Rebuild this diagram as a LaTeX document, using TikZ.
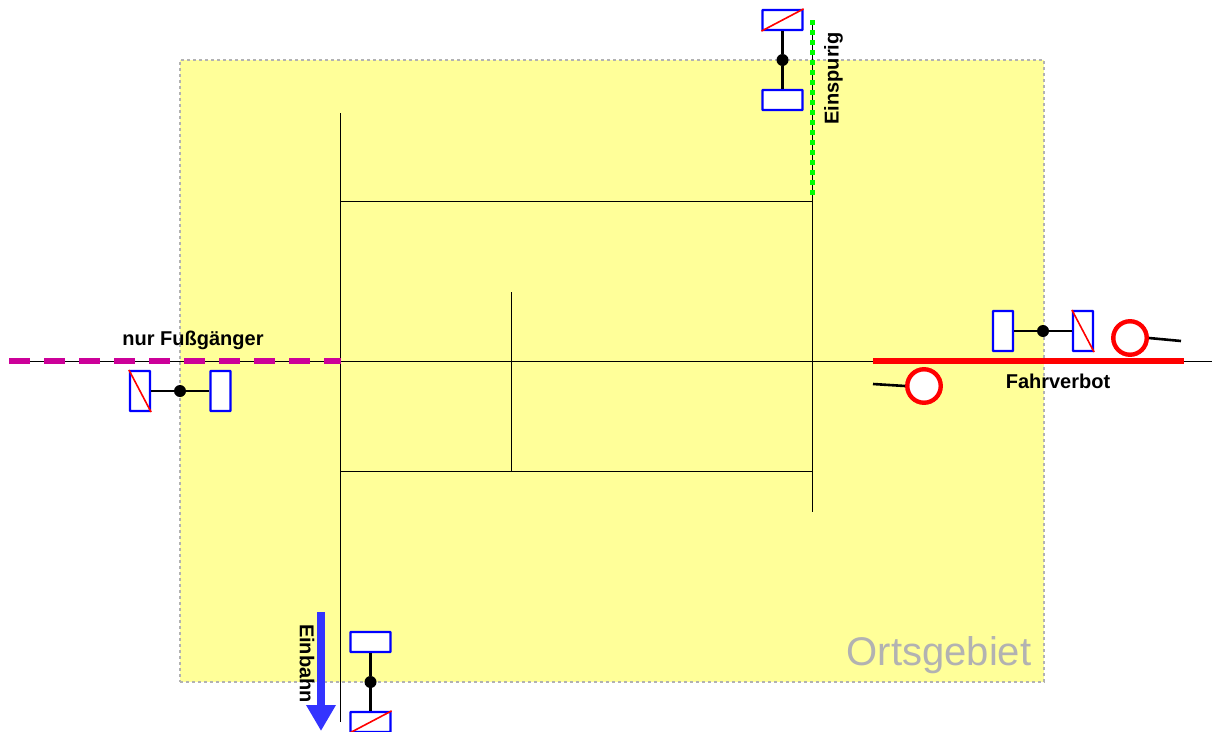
\documentclass[tikz,border=0pt]{standalone}
\usepackage{fontspec}
\setmainfont{Liberation Sans}
\usetikzlibrary{arrows.meta}
\definecolor{zoneyellow}{HTML}{FFFF99}
\definecolor{zonegray}{HTML}{B2B2B2}
\definecolor{walkmagenta}{HTML}{CC0099}
\definecolor{laneblue}{HTML}{3333FF}
\definecolor{signblue}{HTML}{0000FF}
\definecolor{lanegreen}{HTML}{00FF00}

\begin{document}
\begin{tikzpicture}[
            x=1pt, y=-1pt,
            signwide/.style={draw=signblue, fill=white, line width=2.2pt, rounded corners=0.5pt, minimum width=40pt, minimum height=20pt, inner sep=0pt},
            signtall/.style={draw=signblue, fill=white, line width=2.2pt, rounded corners=0.5pt, minimum width=20pt, minimum height=40pt, inner sep=0pt},
            slash/.style={draw=red, line width=1.6pt},
            post/.style={draw=black, line width=2.6pt},
            postdot/.style={circle, fill=black, minimum size=12pt, inner sep=0pt},
            road/.style={draw=black, line width=0.9pt},
            ring/.style={circle, draw=red, fill=white, line width=4.4pt, minimum size=33.5pt, inner sep=0pt},
            label/.style={font=\fontsize{20}{22}\selectfont\bfseries, inner sep=0pt}
        ]
          \useasboundingbox (0,0) rectangle (1212,731);
          \node[draw=zonegray, dashed, fill=zoneyellow, line width=1.2pt, minimum width=864pt, minimum height=622pt, inner sep=0pt] (zone) at (612,371) {};
          \node[font=\fontsize{40}{44}\selectfont, zonegray, inner sep=0pt] (ort) at (939,655) {Ortsgebiet};
          % road junctions
          \coordinate (ntop) at (340.7,113);
          \coordinate (nbot) at (340.7,722);
          \coordinate (nw) at (340.7,201);
          \coordinate (ne) at (812.7,201);
          \coordinate (sw) at (340.7,471);
          \coordinate (se) at (812.7,471);
          \coordinate (seend) at (812.7,512);
          \coordinate (mtop) at (511.7,292);
          \coordinate (mbot) at (511.7,471);
          \coordinate (west) at (10,361);
          \coordinate (east) at (1212,361);
          \coordinate (greenend) at (812.7,20);
          \coordinate (greenstart) at (812.7,196);
          \coordinate (redstart) at (873,361);
          \coordinate (redend) at (1184,361);
          \coordinate (walkstart) at (9,361);
          \coordinate (walkend) at (341,361);
          \coordinate (arrowstart) at (321,612);
          \coordinate (arrowend) at (321,731);
          \draw[road] (ntop) -- (nbot);
          \draw[road] (nw) -- (ne);
          \draw[road] (greenend) -- (seend);
          \draw[road] (sw) -- (se);
          \draw[road] (mtop) -- (mbot);
          \draw[road] (west) -- (east);
          \draw[lanegreen, line width=5.5pt, dash pattern=on 5pt off 5pt] (greenend) -- (greenstart);
          \draw[red, line width=6pt] (redstart) -- (redend);
          \draw[walkmagenta, line width=6pt, dash pattern=on 21pt off 14pt] (walkstart) -- (walkend);
          \draw[-{Triangle[width=28pt,length=26pt]}, laneblue, line width=8pt] (arrowstart) -- (arrowend);
          % top signs
          \node[signwide] (ta) at (782.5,20) {};
          \node[signwide] (tb) at (782.5,100) {};
          \node[postdot] (td) at (782.5,60) {};
          \draw[post] (ta) -- (td);
          \draw[post] (td) -- (tb);
          \draw[slash] (ta.south west) -- (ta.north east);
          % right signs
          \node[signtall] (ra) at (1003,331) {};
          \node[signtall] (rb) at (1083,331) {};
          \node[postdot] (rd) at (1043,331) {};
          \draw[post] (ra) -- (rd);
          \draw[post] (rd) -- (rb);
          \draw[slash] (rb.north west) -- (rb.south east);
          % left signs
          \node[signtall] (la) at (140,391) {};
          \node[signtall] (lb) at (220.5,391) {};
          \node[postdot] (ld) at (180,391) {};
          \draw[post] (la) -- (ld);
          \draw[post] (ld) -- (lb);
          \draw[slash] (la.north west) -- (la.south east);
          % bottom signs
          \node[signwide] (ba) at (370.5,642) {};
          \node[signwide] (bb) at (370.5,722) {};
          \node[postdot] (bd) at (370.5,682) {};
          \draw[post] (ba) -- (bd);
          \draw[post] (bd) -- (bb);
          \draw[slash] (bb.south west) -- (bb.north east);
          % rings
          \node[ring] (ringa) at (1130,338) {};
          \node[ring] (ringb) at (924,386) {};
          \coordinate (ringaend) at (1181,341);
          \coordinate (ringbend) at (873,384);
          \draw[post] (ringa.east) -- (ringaend);
          \draw[post] (ringbend) -- (ringb.west);
          % labels
          \node[label] (foot) at (193,340) {nur Fußgänger};
          \node[label] (verbot) at (1058,381) {Fahrverbot};
          \node[label, rotate=90] (spur) at (833.5,78.5) {Einspurig};
          \node[label, rotate=-90] (bahn) at (307,663.5) {Einbahn};
        \end{tikzpicture}
\end{document}
